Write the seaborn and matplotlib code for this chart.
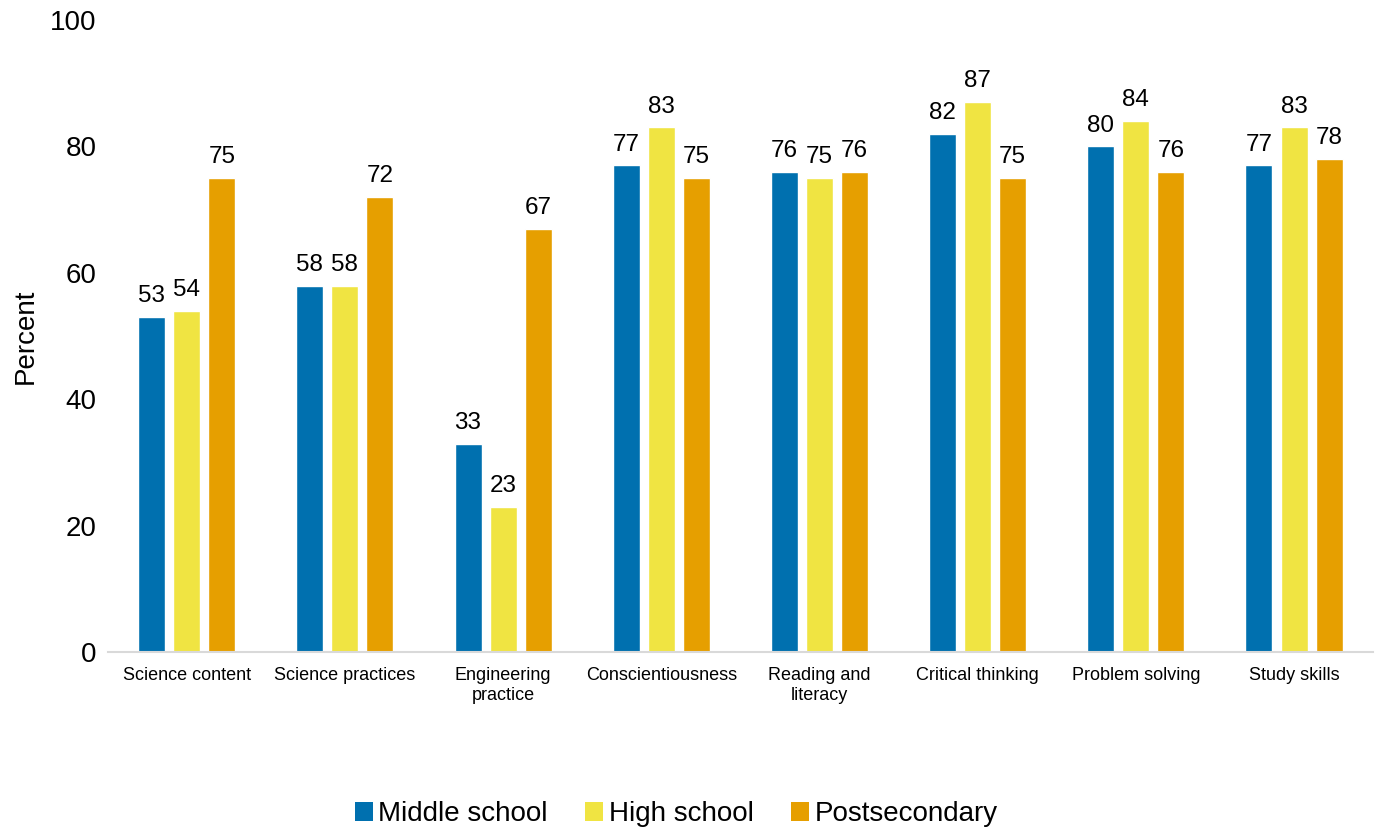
import matplotlib
matplotlib.use("Agg")
import matplotlib.pyplot as plt
from matplotlib.patches import Patch
import seaborn as sns
import pandas as pd

categories = ["Science content", "Science practices", "Engineering\npractice",
              "Conscientiousness", "Reading and\nliteracy", "Critical thinking",
              "Problem solving", "Study skills"]
levels = ["Middle school", "High school", "Postsecondary"]
middle_school = [53, 58, 33, 77, 76, 82, 80, 77]
high_school = [54, 58, 23, 83, 75, 87, 84, 83]
postsecondary = [75, 72, 67, 75, 76, 75, 76, 78]
y_ticks = [0, 20, 40, 60, 80, 100]
colors = ["#0070AF", "#F0E442", "#E69F00"]

series = [middle_school, high_school, postsecondary]
df = pd.DataFrame({
    "category": [c for _ in levels for c in categories],
    "level": [lv for lv in levels for _ in categories],
    "percent": [v for s in series for v in s],
})

sns.set_theme(style="white")
plt.rcParams["font.family"] = ["Liberation Sans", "DejaVu Sans"]
plt.rcParams["text.color"] = "black"

fig = plt.figure(figsize=(13.8, 8.34), dpi=100)
ax = fig.add_axes([0.078, 0.218, 0.917, 0.758])

sns.barplot(data=df, x="category", y="percent", hue="level", order=categories,
            hue_order=levels, palette=colors, saturation=1, width=0.665,
            gap=0.23, ax=ax, errorbar=None, legend=True)

for cont, vals in zip(ax.containers, series):
    ax.bar_label(cont, labels=[str(v) for v in vals], padding=7, fontsize=17.5,
                 color="black")

ax.set_ylim(0, 100)
ax.set_xlim(-0.5, len(categories) - 0.5)
ax.set_yticks(y_ticks)
ax.set_yticklabels([str(t) for t in y_ticks], fontsize=20, color="black")
ax.tick_params(axis="y", length=0, pad=8)
ax.tick_params(axis="x", length=0, pad=11, labelsize=13, labelcolor="black")
ax.set_xlabel("")
ax.set_ylabel("Percent", fontsize=20, color="black", labelpad=8)
for side in ["top", "right", "left"]:
    ax.spines[side].set_visible(False)
ax.spines["bottom"].set_color("#D9D9D9")
ax.spines["bottom"].set_linewidth(1.5)
ax.grid(False)

ax.get_legend().remove()
handles = [Patch(facecolor=c, edgecolor="none") for c in colors]
fig.legend(handles, levels, loc="lower center", bbox_to_anchor=(0.49, -0.022),
           ncol=3, frameon=False, fontsize=20, labelcolor="black",
           handlelength=0.65, handleheight=0.65, handletextpad=0.2,
           columnspacing=1.35)

fig.savefig("out.png", dpi=100)
